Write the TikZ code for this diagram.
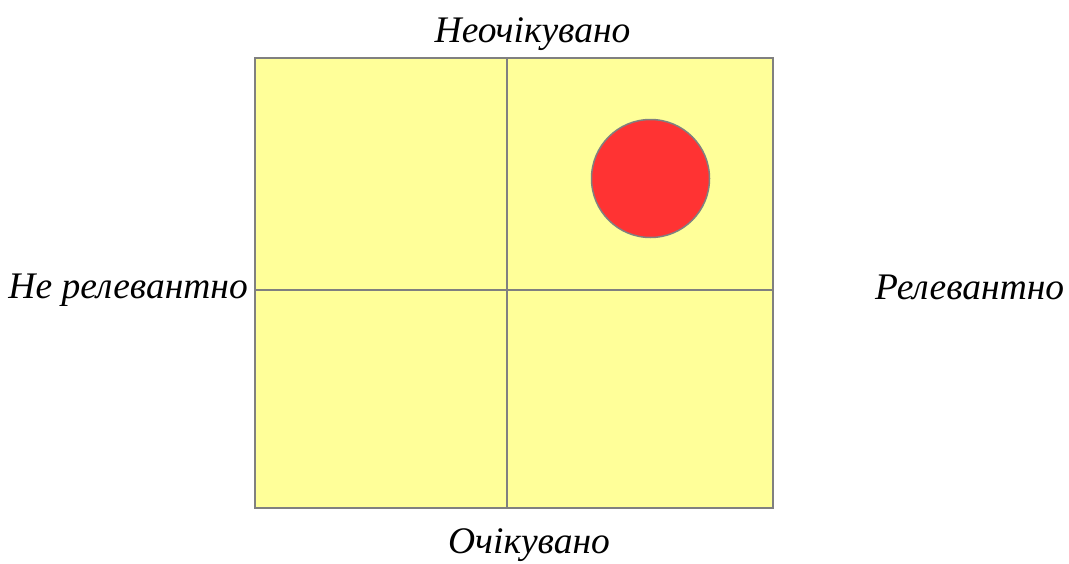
\documentclass[tikz,border=0pt]{standalone}
\usepackage{fontspec}
\setmainfont{Liberation Serif}
\definecolor{quadfill}{HTML}{FFFF99}
\definecolor{linegray}{HTML}{808080}
\definecolor{dotred}{HTML}{FF3333}
\tikzset{
  px/.style={x=1pt,y=-1pt},
  lbl/.style={font=\itshape\fontsize{37.5}{42}\selectfont, inner sep=0pt},
  grid line/.style={draw=linegray, line width=2pt},
}
\begin{document}
\begin{tikzpicture}[px]
\useasboundingbox (0,0) rectangle (1069,563);
\filldraw[fill=quadfill, grid line] (255,58) rectangle (773,508);
\coordinate (top) at (507,58);
\coordinate (bot) at (507,508);
\coordinate (lft) at (255,290);
\coordinate (rgt) at (773,290);
\draw[grid line] (top) -- (bot);
\draw[grid line] (lft) -- (rgt);
\filldraw[fill=dotred, draw=linegray, line width=1.5pt] (650.5,178.5) circle (59);
\node[lbl, anchor=base] (n1) at (532.5,42) {Неочікувано};
\node[lbl, anchor=base] (n2) at (529,553) {Очікувано};
\node[lbl, anchor=base east] (n3) at (248,298) {Не релевантно};
\node[lbl, anchor=base west] (n4) at (875,299) {Релевантно};
\end{tikzpicture}
\end{document}
